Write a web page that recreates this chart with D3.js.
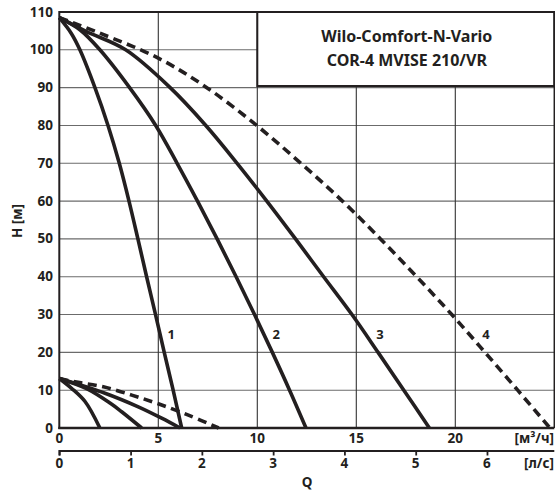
<!DOCTYPE html>
<html><head><meta charset="utf-8">
<script src="https://cdn.jsdelivr.net/npm/d3@7"></script>
<style>
html,body{margin:0;padding:0;background:#fff;}
text{font-family:"Noto Sans","DejaVu Sans",sans-serif;font-weight:700;fill:#231f20;}
</style></head>
<body>
<svg id="c" width="555" height="495"></svg>
<script>
// ---- data (Q in m³/h, H in m) ----
const yTicks = [0,10,20,30,40,50,60,70,80,90,100,110];
const xTicks = [0,5,10,15,20];
const lsTicks = [0,1,2,3,4,5,6];
const titleLines = ["Wilo-Comfort-N-Vario","COR-4 MVISE 210/VR"];

const c1Q = [0,0.6,1.04,1.8,2.46,3.03,3.52,3.97,4.41,4.86,5.3,5.75,6.18];
const c1H = [108.5,104.4,100,90,80,70,60,50,40,30,20,10,0];
const c2Q = [0,1.04,2.05,3.55,4.87,5.95,6.98,7.97,8.93,9.86,10.76,11.63,12.46];
const c2H = [108.5,105.3,100,90,80,70,60,50,40,30,20,10,0];
const c3Q = [0,1.38,3.35,5.6,7.4,8.98,10.48,11.93,13.35,14.78,16.1,17.4,18.69];
const c3H = [108.5,104.8,100,90,80,70,60,50,40,30,20,10,0];
const c4Q = [0,2.05,5,7.45,9.97,12.2,14.3,16.22,18.05,19.82,21.5,23.15,24.78];
const c4H = [108.5,104.4,97.8,90,80,70,60,50,40,30,20,10,0];

const m1Q = [0,0.62,1.3,2.05];
const m1H = [13.1,10.5,7.0,0];
const m2Q = [0,1.38,2.56,3.15,4.16];
const m2H = [13.1,10.4,6.6,4.3,0];
const m3Q = [0,2.31,3.99,5.17,6.1];
const m3H = [13.1,9.2,5.6,2.6,0];
const m4Q = [0,0.79,2.22,3.66,5,6.52,8.05];
const m4H = [13.1,12.2,10.9,8.7,6.4,3.4,0];

const curveLabels = [
  {t:"1", q:5.65, h:23.5},
  {t:"2", q:10.95, h:23.5},
  {t:"3", q:16.2, h:23.5},
  {t:"4", q:21.55, h:23.5}
];

// ---- drawing ----
const svg = d3.select("#c");
const x = d3.scaleLinear().domain([0,25]).range([59.3,554.3]);
const xls = d3.scaleLinear().domain([0,25/3.6]).range([59.3,554.3]);
const y = d3.scaleLinear().domain([0,110]).range([428,12]);

// grid
svg.append("g").selectAll("line").data(yTicks.filter(d=>d>0&&d<110)).join("line")
  .attr("x1",x(0)).attr("x2",x(25)).attr("y1",d=>y(d)).attr("y2",d=>y(d))
  .attr("stroke","#6b6b6b").attr("stroke-width",1.1);
svg.append("g").selectAll("line").data(xTicks.filter(d=>d>0)).join("line")
  .attr("x1",d=>x(d)).attr("x2",d=>x(d)).attr("y1",y(0)).attr("y2",y(110))
  .attr("stroke","#333").attr("stroke-width",1.1);

// title box
svg.append("rect").attr("x",x(10)).attr("y",y(110)).attr("width",x(25)-x(10)).attr("height",86-y(110))
  .attr("fill","#fff").attr("stroke","#231f20").attr("stroke-width",2);
svg.append("g").selectAll("text").data(titleLines).join("text")
  .attr("x",(x(10)+x(25))/2+1).attr("y",(d,i)=>42+i*23.5)
  .attr("text-anchor","middle").attr("font-size",16).text(d=>d);

// frame
svg.append("line").attr("x1",x(0)).attr("x2",x(25)).attr("y1",y(110)).attr("y2",y(110)).attr("stroke","#231f20").attr("stroke-width",2);
svg.append("line").attr("x1",x(0)).attr("x2",x(0)).attr("y1",y(110)-1).attr("y2",y(0)+1).attr("stroke","#231f20").attr("stroke-width",2);
svg.append("line").attr("x1",x(25)).attr("x2",x(25)).attr("y1",y(110)).attr("y2",y(0)).attr("stroke","#231f20").attr("stroke-width",1.5);

// curves
const line = d3.line().x(d=>x(d[0])).y(d=>y(d[1])).curve(d3.curveCatmullRom.alpha(0.5));
const zip = (a,b)=>a.map((v,i)=>[v,b[i]]);
const solid = [[c1Q,c1H],[c2Q,c2H],[c3Q,c3H],[m1Q,m1H],[m2Q,m2H],[m3Q,m3H]];
const dashed = [[c4Q,c4H],[m4Q,m4H]];
const cg = svg.append("g");
cg.selectAll("path.s").data(solid).join("path").attr("class","s")
  .attr("d",d=>line(zip(d[0],d[1]))).attr("fill","none")
  .attr("stroke","#231f20").attr("stroke-width",3.6).attr("stroke-linejoin","round");
cg.selectAll("path.d").data(dashed).join("path").attr("class","d")
  .attr("d",d=>line(zip(d[0],d[1]))).attr("fill","none")
  .attr("stroke","#231f20").attr("stroke-width",3.6).attr("stroke-dasharray","9,5.5");

// bottom axis line
svg.append("line").attr("x1",x(0)-1).attr("x2",x(25)).attr("y1",y(0)).attr("y2",y(0)).attr("stroke","#231f20").attr("stroke-width",2.5);

// curve labels
svg.append("g").selectAll("text").data(curveLabels).join("text")
  .attr("x",d=>x(d.q)).attr("y",d=>y(d.h)).attr("text-anchor","middle").attr("font-size",13).text(d=>d.t);

// y labels
svg.append("g").selectAll("text").data(yTicks).join("text")
  .attr("x",53).attr("y",d=>y(d)+4.5).attr("text-anchor","end").attr("font-size",13.5).text(d=>d);
// x labels
svg.append("g").selectAll("text").data(xTicks).join("text")
  .attr("x",d=>x(d)).attr("y",443).attr("text-anchor","middle").attr("font-size",13.5).text(d=>d);
svg.append("text").attr("x",554).attr("y",443).attr("text-anchor","end").attr("font-size",13.5).text("[м³/ч]");

// l/s axis
const lsAxis = d3.axisBottom(xls).tickValues(lsTicks).tickSize(4.5).tickFormat("");
const ga = svg.append("g").attr("transform","translate(0,451)").call(lsAxis);
ga.select(".domain").attr("stroke","#231f20").attr("stroke-width",1.8).attr("d",`M${x(0)},4.5V0H${x(25)}`);
ga.selectAll(".tick line").attr("stroke","#231f20").attr("stroke-width",1.8);
svg.append("g").selectAll("text").data(lsTicks).join("text")
  .attr("x",d=>xls(d)).attr("y",468).attr("text-anchor","middle").attr("font-size",13.5).text(d=>d);
svg.append("text").attr("x",554).attr("y",468).attr("text-anchor","end").attr("font-size",13.5).text("[л/с]");

// axis titles
svg.append("text").attr("x",307).attr("y",487).attr("text-anchor","middle").attr("font-size",13.5).text("Q");
svg.append("text").attr("transform","translate(22,221) rotate(-90)").attr("text-anchor","middle").attr("font-size",13.5).text("H [м]");
</script>
</body></html>
